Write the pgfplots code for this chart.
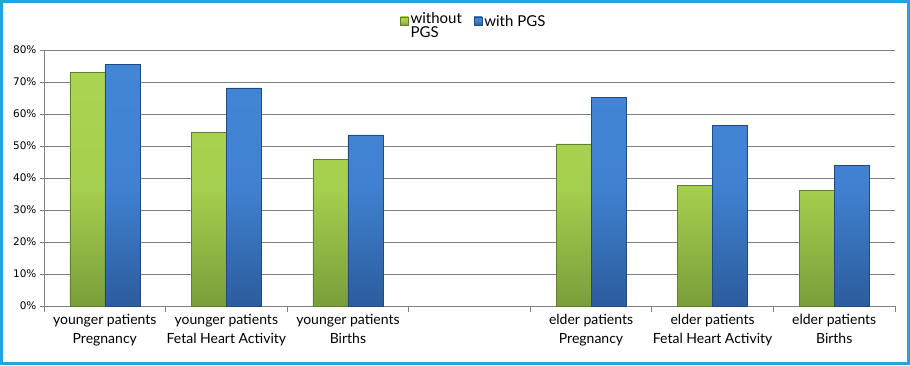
\documentclass[border=0pt]{standalone}
\usepackage{pgfplots}
\pgfplotsset{compat=1.18}
\usepackage{fontspec}
\setmainfont{Lato}
\newfontfamily\tickfont{DejaVu Sans}
\definecolor{frame}{RGB}{38,163,218}
\definecolor{gtop}{RGB}{170,212,80}
\definecolor{gbot}{RGB}{122,158,58}
\definecolor{btop}{RGB}{66,134,214}
\definecolor{bbot}{RGB}{44,92,158}
\definecolor{gridc}{RGB}{128,128,128}
\begin{document}
\begin{tikzpicture}[x=1pt,y=1pt]
\useasboundingbox (0,0) rectangle (910,365);
\draw[frame, line width=3pt] (1.5,1.5) rectangle (908.5,363.5);
\begin{axis}[
  at={(44pt,59pt)}, anchor=south west,
  scale only axis, width=851pt, height=256pt,
  ybar=0pt, bar width=35pt,
  xmin=-0.5, xmax=6.5, ymin=0, ymax=80,
  xtick={0,1,2,3,4,5,6},
  xticklabels={{younger patients\\Pregnancy},{younger patients\\Fetal Heart Activity},{younger patients\\Births},{},{elder patients\\Pregnancy},{elder patients\\Fetal Heart Activity},{elder patients\\Births}},
  minor xtick={-0.5,0.5,1.5,2.5,3.5,4.5,5.5,6.5},
  major x tick style={draw=none},
  minor x tick style={gridc},
  x tick label style={font=\fontsize{14}{19}\selectfont, align=center, yshift=-1pt},
  ytick={0,10,...,80},
  yticklabel={\pgfmathprintnumber{\tick}\%},
  y tick label style={font=\tickfont\fontsize{10.5}{12}\selectfont},
  /pgf/number format/assume math mode=true,
  ymajorgrids, grid style={gridc, line width=0.9pt},
  axis x line*=bottom, axis y line*=left,
  axis line style={gridc, line width=0.9pt},
  tick style={gridc, line width=0.8pt},
  tick align=outside, major tick length=4pt, minor tick length=6pt,
  legend style={at={(0.505,1.055)}, anchor=south, draw=none, fill=none,
    legend columns=2, font=\fontsize{15}{12}\selectfont,
    /tikz/every even column/.append style={column sep=10pt}},
  legend cell align=left,
  legend image code/.code={\fill[#1] (0pt,-3pt) rectangle (8pt,5pt);},
]
\addplot[draw=gbot!80!black, bottom color=gbot, top color=gtop, middle color=gtop!90!gbot] coordinates {(0,73.0) (1,54.3) (2,45.8) (4,50.7) (5,37.7) (6,36.1)};
\addlegendentry{\begin{tabular}{@{}l@{}}without\\[0pt]PGS\end{tabular}}
\addplot[draw=bbot!80!black, bottom color=bbot, top color=btop, middle color=btop!90!bbot] coordinates {(0,75.5) (1,68.2) (2,53.5) (4,65.2) (5,56.5) (6,44.0)};
\addlegendentry{with PGS}
\end{axis}
\end{tikzpicture}
\end{document}
